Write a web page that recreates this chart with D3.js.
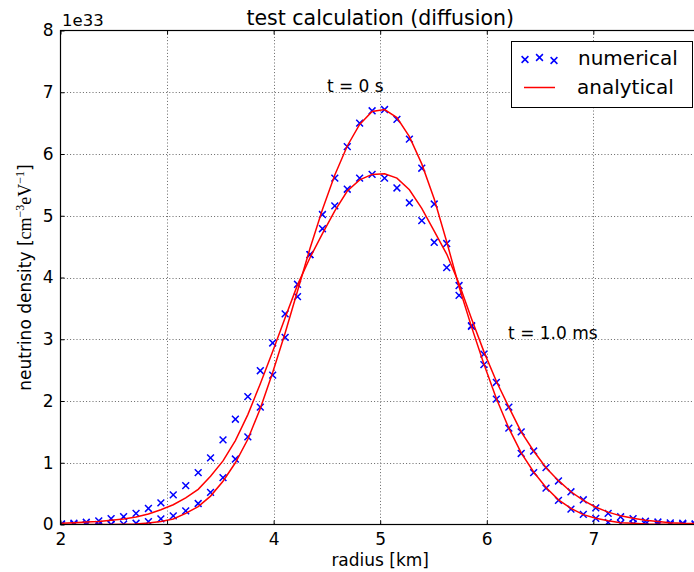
<!DOCTYPE html>
<html lang="en">
<head>
    <meta charset="UTF-8">
    <title>test calculation (diffusion)</title>
    <script src="https://cdn.jsdelivr.net/npm/d3@7"></script>
    <style>
        body { margin: 0; background: #fff; }
        svg { display: block; font-family: "DejaVu Sans", sans-serif; }
    </style>
</head>
<body>
<div id="container"></div>
<script>
    // radius grid of the run [km]
    var radius = [2.009, 2.126, 2.242, 2.359, 2.475, 2.592, 2.709, 2.825, 2.942, 3.058,
                  3.175, 3.292, 3.408, 3.525, 3.641, 3.758, 3.875, 3.991, 4.108, 4.224,
                  4.341, 4.458, 4.574, 4.691, 4.807, 4.924, 5.041, 5.157, 5.274, 5.390,
                  5.507, 5.624, 5.740, 5.857, 5.973, 6.090, 6.207, 6.323, 6.440, 6.556,
                  6.673, 6.790, 6.906, 7.023, 7.139, 7.256, 7.373, 7.489, 7.606, 7.722,
                  7.839, 7.955];

    // numerical values, t = 0 s (units of 1e33)
    var numT0 = [0.0, 0.0, 0.0, 0.0, 0.0, 0.005, 0.02, 0.045, 0.09, 0.14,
                 0.22, 0.34, 0.52, 0.76, 1.06, 1.42, 1.90, 2.42, 3.03, 3.69,
                 4.37, 5.02, 5.61, 6.12, 6.50, 6.70, 6.72, 6.56, 6.24, 5.77,
                 5.19, 4.55, 3.87, 3.21, 2.59, 2.03, 1.56, 1.15, 0.84, 0.59,
                 0.39, 0.25, 0.165, 0.10, 0.035, 0.02, 0.01, 0.005, 0.0, 0.0,
                 0.0, 0.0];

    // numerical values, t = 1.0 ms
    var numT1 = [0.01, 0.02, 0.036, 0.057, 0.094, 0.126, 0.18, 0.26, 0.35, 0.48,
                 0.63, 0.84, 1.08, 1.37, 1.705, 2.07, 2.49, 2.94, 3.41, 3.89,
                 4.37, 4.79, 5.16, 5.43, 5.61, 5.67, 5.61, 5.45, 5.21, 4.92,
                 4.57, 4.16, 3.71, 3.22, 2.76, 2.30, 1.90, 1.50, 1.19, 0.92,
                 0.705, 0.53, 0.40, 0.27, 0.18, 0.125, 0.094, 0.052, 0.04, 0.025,
                 0.02, 0.01];

    // analytical values, t = 0 s
    var anaT0 = [0.0, 0.0, 0.0, 0.0, 0.0, 0.005, 0.01, 0.025, 0.05, 0.09,
                 0.18, 0.29, 0.46, 0.70, 1.00, 1.38, 1.88, 2.46, 3.10, 3.78,
                 4.47, 5.10, 5.66, 6.13, 6.48, 6.69, 6.72, 6.59, 6.28, 5.84,
                 5.27, 4.58, 3.85, 3.20, 2.60, 2.04, 1.56, 1.16, 0.85, 0.60,
                 0.40, 0.26, 0.16, 0.10, 0.06, 0.03, 0.02, 0.01, 0.005, 0.003,
                 0.002, 0.001];

    // analytical values, t = 1.0 ms
    var anaT1 = [0.02, 0.03, 0.04, 0.05, 0.07, 0.09, 0.12, 0.17, 0.24, 0.32,
                 0.43, 0.57, 0.78, 1.03, 1.36, 1.78, 2.28, 2.80, 3.35, 3.88,
                 4.32, 4.71, 5.08, 5.40, 5.58, 5.67, 5.68, 5.61, 5.42, 5.12,
                 4.75, 4.38, 3.90, 3.33, 2.80, 2.32, 1.90, 1.50, 1.19, 0.92,
                 0.71, 0.53, 0.39, 0.28, 0.20, 0.14, 0.10, 0.07, 0.05, 0.03,
                 0.02, 0.015];

    var xTicks = [2, 3, 4, 5, 6, 7];
    var yTicks = [0, 1, 2, 3, 4, 5, 6, 7, 8];
    var labels = [
        {x: 4.5, y: 7.0, text: "t = 0 s"},
        {x: 6.2, y: 3.0, text: "t = 1.0 ms"}
    ];

    var width = 694;
    var height = 572;
    var pLeft = 60.5, pTop = 30.5, pRight = 699.9, pBottom = 524.5;

    var svg = d3.select("#container")
        .append("svg")
        .attr("width", width)
        .attr("height", height);

    var x = d3.scaleLinear().domain([2, 8]).range([pLeft, pRight]);
    var y = d3.scaleLinear().domain([0, 8]).range([pBottom, pTop]);

    svg.append("clipPath").attr("id", "plot")
        .append("rect")
        .attr("x", pLeft).attr("y", pTop)
        .attr("width", pRight - pLeft).attr("height", pBottom - pTop);

    // grid (dotted)
    var grid = svg.append("g")
        .attr("stroke", "#666")
        .attr("stroke-width", 1)
        .attr("stroke-dasharray", "1,2.2");
    grid.selectAll(".gx").data(xTicks.slice(1)).join("line")
        .attr("x1", d => Math.round(x(d)) + 0.5).attr("x2", d => Math.round(x(d)) + 0.5)
        .attr("y1", pTop).attr("y2", pBottom);
    grid.selectAll(".gy").data(yTicks.slice(1, -1)).join("line")
        .attr("y1", d => Math.round(y(d)) + 0.5).attr("y2", d => Math.round(y(d)) + 0.5)
        .attr("x1", pLeft).attr("x2", pRight);

    var plot = svg.append("g").attr("clip-path", "url(#plot)");

    // numerical points
    var cross = "M-3.4,-3.4L3.4,3.4M-3.4,3.4L3.4,-3.4";
    [numT0, numT1].forEach(function(series) {
        plot.append("g").selectAll("path")
            .data(series)
            .join("path")
            .attr("d", cross)
            .attr("transform", (d, i) => "translate(" + x(radius[i]) + "," + y(d) + ")")
            .attr("stroke", "blue")
            .attr("stroke-width", 1.5)
            .attr("fill", "none");
    });

    // analytical curves
    var line = d3.line()
        .x((d, i) => x(radius[i]))
        .y(d => y(d));
    [anaT0, anaT1].forEach(function(series) {
        plot.append("path")
            .datum(series)
            .attr("d", line)
            .attr("fill", "none")
            .attr("stroke", "red")
            .attr("stroke-width", 1.5);
    });

    // frame
    svg.append("rect")
        .attr("x", pLeft).attr("y", pTop)
        .attr("width", pRight - pLeft).attr("height", pBottom - pTop)
        .attr("fill", "none")
        .attr("stroke", "#000")
        .attr("stroke-width", 1.2);

    // axes, ticks pointing inward
    var xAxis = svg.append("g")
        .attr("transform", "translate(0," + pBottom + ")")
        .call(d3.axisBottom(x).tickValues(xTicks).tickFormat(d3.format("d"))
            .tickSizeInner(-4).tickSizeOuter(0).tickPadding(8));
    var xTop = svg.append("g")
        .attr("transform", "translate(0," + pTop + ")")
        .call(d3.axisTop(x).tickValues(xTicks).tickSizeInner(-4).tickSizeOuter(0).tickFormat(""));
    var yAxis = svg.append("g")
        .attr("transform", "translate(" + pLeft + ",0)")
        .call(d3.axisLeft(y).tickValues(yTicks).tickFormat(d3.format("d"))
            .tickSizeInner(-4).tickSizeOuter(0).tickPadding(7));
    [xAxis, xTop, yAxis].forEach(function(g) {
        g.select(".domain").remove();
        g.selectAll("line").attr("stroke", "#000").attr("stroke-width", 1);
        g.selectAll("text")
            .attr("font-family", "DejaVu Sans")
            .attr("font-size", 17)
            .attr("fill", "#000");
    });

    // offset text
    svg.append("text")
        .attr("x", 62).attr("y", 26)
        .attr("font-size", 16.5)
        .text("1e33");

    // title
    svg.append("text")
        .attr("x", (pLeft + pRight) / 2).attr("y", 25)
        .attr("text-anchor", "middle")
        .attr("font-size", 20.5)
        .text("test calculation (diffusion)");

    // axis labels
    svg.append("text")
        .attr("x", (pLeft + pRight) / 2).attr("y", 566)
        .attr("text-anchor", "middle")
        .attr("font-size", 17)
        .text("radius [km]");

    var yl = svg.append("text")
        .attr("transform", "translate(31," + ((pTop + pBottom) / 2) + ") rotate(-90)")
        .attr("text-anchor", "middle")
        .attr("font-size", 17);
    yl.append("tspan").text("neutrino density [");
    yl.append("tspan").attr("font-family", "Liberation Serif").attr("font-size", 18).text("cm");
    yl.append("tspan").attr("font-family", "Liberation Serif").attr("font-size", 12).attr("dy", -7).text("\u22123");
    yl.append("tspan").attr("font-family", "Liberation Serif").attr("font-size", 18).attr("dy", 7).text("eV");
    yl.append("tspan").attr("font-family", "Liberation Serif").attr("font-size", 12).attr("dy", -7).text("\u22121");
    yl.append("tspan").attr("dy", 7).text("]");

    // annotations
    svg.selectAll(".note").data(labels).join("text")
        .attr("x", d => x(d.x)).attr("y", d => y(d.y))
        .attr("font-size", 17)
        .text(d => d.text);

    // legend
    var legend = svg.append("g");
    legend.append("rect")
        .attr("x", 511.5).attr("y", 41.5)
        .attr("width", 181).attr("height", 66)
        .attr("fill", "#fff")
        .attr("stroke", "#000")
        .attr("stroke-width", 1);
    [[525, 59.5], [539.5, 57.5], [554, 60.5]].forEach(function(p) {
        legend.append("path")
            .attr("d", cross)
            .attr("transform", "translate(" + p[0] + "," + p[1] + ")")
            .attr("stroke", "blue")
            .attr("stroke-width", 1.5);
    });
    legend.append("line")
        .attr("x1", 524).attr("x2", 555)
        .attr("y1", 87.5).attr("y2", 87.5)
        .attr("stroke", "red")
        .attr("stroke-width", 1.5);
    legend.append("text").attr("x", 578).attr("y", 65).attr("font-size", 20).text("numerical");
    legend.append("text").attr("x", 577).attr("y", 94).attr("font-size", 20).text("analytical");
</script>
</body>
</html>
